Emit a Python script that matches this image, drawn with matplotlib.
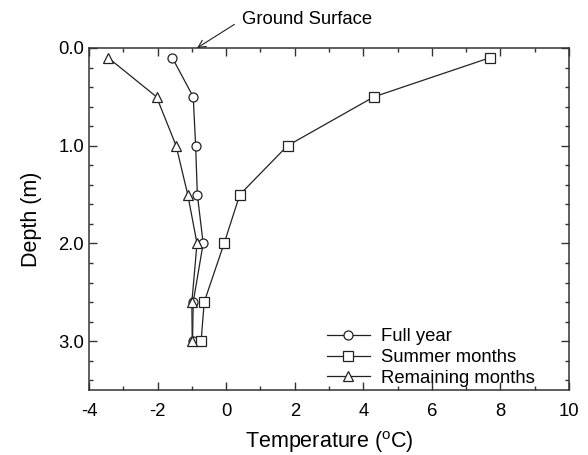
import matplotlib
matplotlib.use('Agg')
import matplotlib.pyplot as plt
from matplotlib.ticker import MultipleLocator

plt.rcParams['font.family'] = ['Liberation Sans', 'DejaVu Sans']
plt.rcParams['axes.unicode_minus'] = False

# depth of the measurement points (m)
depth = [0.1, 0.5, 1.0, 1.5, 2.0, 2.6, 3.0]

# temperatures (deg C)
full_year = [-1.57, -0.96, -0.89, -0.84, -0.67, -0.96, -0.98]
summer = [7.69, 4.31, 1.79, 0.40, -0.06, -0.64, -0.73]
remaining = [-3.44, -2.03, -1.46, -1.12, -0.85, -1.00, -0.99]

series = [
    (full_year, 'o', 'Full year'),
    (summer, 's', 'Summer months'),
    (remaining, '^', 'Remaining months'),
]

fig = plt.figure(figsize=(5.88, 4.55), dpi=100)
ax = fig.add_axes([89 / 588, 1 - 390 / 455, 480 / 588, 342 / 455])

for temps, mk, lab in series:
    ax.plot(temps, depth, color='#222222', linewidth=0.9, marker=mk,
            markersize=6.5, markerfacecolor='white', markeredgecolor='#222222',
            markeredgewidth=0.9, label=lab)

ax.set_xlim(-4, 10)
ax.set_ylim(3.5, 0.0)
ax.xaxis.set_major_locator(MultipleLocator(2))
ax.xaxis.set_minor_locator(MultipleLocator(1))
ax.yaxis.set_major_locator(MultipleLocator(1.0))
ax.yaxis.set_minor_locator(MultipleLocator(0.2))
ax.yaxis.set_major_formatter(plt.FormatStrFormatter('%.1f'))

ax.tick_params(which='both', direction='in', top=True, right=True,
               labelsize=13.3, colors='#333333', labelcolor='black')
ax.tick_params(which='major', length=6, width=1)
ax.tick_params(which='minor', length=3, width=1)
ax.tick_params(axis='x', pad=9)
for s in ax.spines.values():
    s.set_linewidth(1.1)
    s.set_color('#333333')

ax.set_xlabel('Temperature ($\\mathregular{^{o}}$C)', fontsize=15.5, labelpad=7)
ax.set_ylabel('Depth (m)', fontsize=15.5, labelpad=12)

ax.annotate('Ground Surface', xy=(-0.85, 0.0), xytext=(0.46, -0.29),
            textcoords='data', fontsize=13.3, va='center', ha='left',
            annotation_clip=False,
            arrowprops=dict(arrowstyle='->', color='#222222', lw=0.8,
                            relpos=(0, 0.5), shrinkA=4, shrinkB=0))

ax.legend(loc='upper left', bbox_to_anchor=(0.496, 0.18), frameon=False,
          fontsize=13.3, handlelength=2.3, handletextpad=0.6,
          labelspacing=0.2, borderpad=0, borderaxespad=0)

fig.savefig('out.png', dpi=100)
